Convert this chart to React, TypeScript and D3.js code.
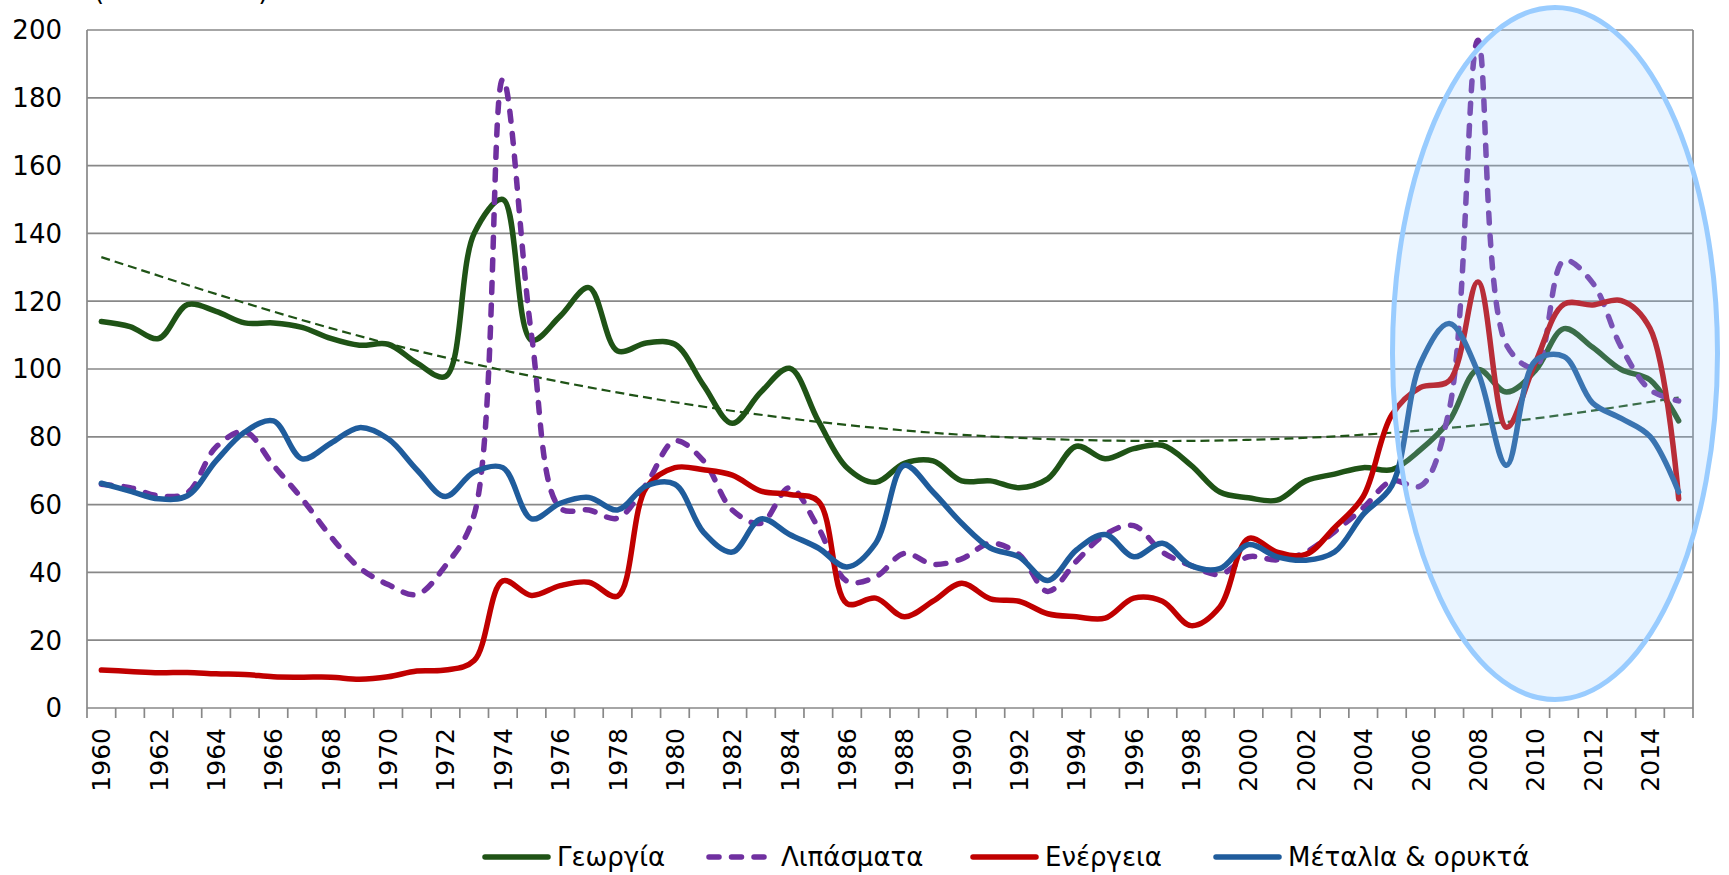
import React from 'react';
import * as d3 from 'd3';

const years = d3.range(1960, 2016);

// Γεωργία
const agriculture = [
  114, 112.5, 109, 119, 117, 113.6, 113.6, 112.3, 109, 107,
  107.3, 101.8, 97.8, 140, 150, 108.5, 115.6, 124, 105.3, 107.7,
  107.3, 95.2, 84, 93.2, 100.2, 84.7, 70.9, 66.6, 72.2, 72.9,
  67, 67, 65, 67.6, 77.2, 73.5, 76.5, 77.5, 71.6, 63.7,
  62, 61.3, 67, 69, 70.9, 70.3, 76.2, 84.7, 99.8, 93.2,
  99.5, 111.9, 106.4, 99.8, 96.8, 84.7
];

// Λιπάσματα
const fertilizers = [
  66, 65, 62.6, 63.5, 77, 81.5, 71.6, 61.7, 50.6, 41.4,
  36.4, 33.5, 42, 57, 185.5, 110, 59, 58.4, 56, 66,
  78.8, 72.9, 58.4, 54.5, 65, 53.2, 37.4, 38.7, 45.6, 42.4,
  44, 48.6, 45.3, 34.4, 43.3, 51.2, 53.8, 46, 42, 39.4,
  44.6, 43.7, 46, 52, 59, 67, 65.5, 88, 197, 107,
  100.5, 132, 125.4, 106.4, 93.9, 90.6
];

// Ενέργεια
const energy = [
  11.2, 10.8, 10.4, 10.5, 10.1, 9.9, 9.2, 9.1, 9.1, 8.5,
  9.2, 10.9, 11.2, 14, 37.5, 33.2, 36.1, 37.1, 33, 65,
  70.9, 70.3, 68.7, 64, 63, 61, 30.8, 32.4, 26.9, 31.5,
  36.8, 32.2, 31.5, 27.8, 26.9, 26.5, 32.4, 31.5, 24.3, 29.8,
  50, 46, 45.3, 53.2, 62.4, 86.5, 94.6, 96.5, 125.7, 82.8,
  101.8, 119.1, 118.9, 120.2, 112, 61.7
];

// Μέταλλα & ορυκτά
const metals = [
  66.3, 64, 61.7, 62.6, 72.9, 81.4, 84.7, 73.5, 78.1, 82.7,
  79.4, 70.3, 62.4, 69.6, 70.9, 55.8, 60.4, 62.1, 58.4, 65.5,
  66, 51.8, 46, 55.8, 51.2, 47.2, 41.6, 48.6, 71.6, 63.7,
  54.5, 47.2, 44.6, 37.6, 46.6, 51.2, 44.6, 48.6, 42, 41.1,
  48.2, 44.6, 43.6, 46, 57.1, 65.6, 101.8, 113.4, 99.1, 71.6,
  102.4, 103.7, 90, 85.4, 80.1, 63.7
];

// trend line of Γεωργία
const trendYears = [1960, 1965, 1970, 1975, 1980, 1985, 1990, 1995, 2000, 2005, 2010, 2015];
const trendValues = [133, 119.5, 107.5, 97.9, 90.2, 84.4, 80.6, 78.9, 79.1, 81.2, 85.4, 91.6];

const yTicks = [0, 20, 40, 60, 80, 100, 120, 140, 160, 180, 200];
const xLabels = years.filter(y => y % 2 === 0);

const series = [
  { name: 'Γεωργία', values: agriculture, color: '#1F5316', dash: null },
  { name: 'Λιπάσματα', values: fertilizers, color: '#7030A0', dash: '10 12.5' },
  { name: 'Ενέργεια', values: energy, color: '#C00000', dash: null },
  { name: 'Μέταλlα & ορυκτά', values: metals, color: '#1F5C9C', dash: null },
];

const font = 'DejaVu Sans, Verdana, sans-serif';

const App = () => {
  const width = 1729;
  const height = 875;
  const left = 87;
  const right = 1693;
  const top = 30;
  const bottom = 708;

  const x = d3.scaleBand<number>().domain(years).range([left, right]).padding(0);
  const y = d3.scaleLinear().domain([0, 200]).range([bottom, top]);
  const cx = (yr: number) => (x(yr) as number) + x.bandwidth() / 2;

  // smoothed lines, like Excel's "smoothed line" option
  const line = d3.line<number>()
    .x((d, i) => cx(years[i]))
    .y(d => y(d))
    .curve(d3.curveCatmullRom.alpha(0.5));

  const trend = d3.line<number>()
    .x((d, i) => cx(trendYears[i]))
    .y(d => y(d))
    .curve(d3.curveNatural);

  const boundaries = d3.range(years.length + 1).map(k => left + k * x.bandwidth());
  const legendX = [482, 706, 970, 1213];
  const legendY = 857;

  return (
    <svg width={width} height={height} style={{ position: 'absolute', left: 0, top: 0 }} fontFamily={font}>
      <rect width={width} height={height} fill="#fff" />
      <text x={94} y={0} fontSize={26}>(2010 = 100)</text>

      {yTicks.map(t => (
        <line key={t} x1={left} x2={right} y1={y(t)} y2={y(t)} stroke="#888" strokeWidth={1.7} />
      ))}
      <line x1={left} x2={left} y1={top} y2={bottom} stroke="#888" strokeWidth={1.7} />
      <line x1={right} x2={right} y1={top} y2={bottom} stroke="#888" strokeWidth={1.7} />
      {boundaries.map((b, i) => (
        <line key={i} x1={b} x2={b} y1={bottom} y2={bottom + 10} stroke="#888" strokeWidth={1.7} />
      ))}

      {yTicks.map(t => (
        <text key={t} x={62} y={y(t)} dy="0.36em" textAnchor="end" fontSize={26} fill="#000">{t}</text>
      ))}
      {xLabels.map(yr => (
        <text key={yr} transform={`translate(${cx(yr)},728) rotate(-90)`} dy="0.36em"
          textAnchor="end" fontSize={25} fill="#000">{yr}</text>
      ))}

      <path d={trend(trendValues) || ''} fill="none" stroke="#1F5316" strokeWidth={2.2} strokeDasharray="9 5" />

      {series.map(s => (
        <path key={s.name} d={line(s.values) || ''} fill="none" stroke={s.color} strokeWidth={5.5}
          strokeDasharray={s.dash || undefined} strokeLinecap="round" strokeLinejoin="round" />
      ))}

      <ellipse cx={1555} cy={353.5} rx={162.5} ry={346} fill="#99CCFF" fillOpacity={0.22}
        stroke="#99CCFF" strokeWidth={5} />

      {series.map((s, i) => (
        <g key={s.name} transform={`translate(${legendX[i]},${legendY})`}>
          <line x1={3} x2={66} y1={0} y2={0} stroke={s.color} strokeWidth={5.5}
            strokeDasharray={s.dash || undefined} strokeLinecap="round" />
          <text x={75} y={0} dy="0.36em" fontSize={26} fill="#000">{s.name}</text>
        </g>
      ))}
    </svg>
  );
};

export default App;
